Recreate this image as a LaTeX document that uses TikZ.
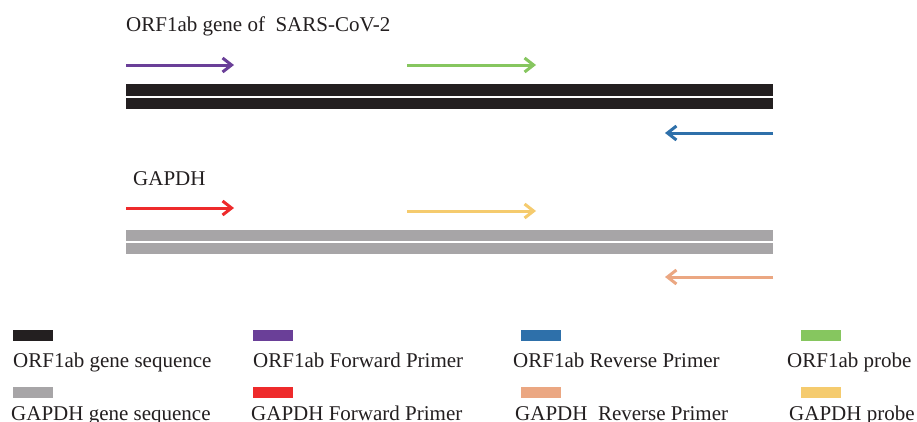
\documentclass[tikz,border=0pt]{standalone}
\usepackage{fontspec}
\setmainfont{Liberation Serif}
\usetikzlibrary{arrows.meta}
\definecolor{cblack}{HTML}{231F20}
\definecolor{cgray}{HTML}{A7A5A7}
\definecolor{cpurple}{HTML}{6A3F98}
\definecolor{cgreen}{HTML}{86C65F}
\definecolor{cblue}{HTML}{2E70AA}
\definecolor{cred}{HTML}{EE2A2B}
\definecolor{cyellow}{HTML}{F5CB6E}
\definecolor{corange}{HTML}{EBA782}
\tikzset{
  primer/.style={line width=3pt,-{Straight Barb[length=9pt,width=14pt,line width=3pt]}},
  lbl/.style={anchor=base west,inner sep=0pt,font=\fontsize{21}{21}\selectfont,text=cblack},
  swatch/.style={fill=#1,draw=none,minimum width=40pt,minimum height=11pt,inner sep=0pt,anchor=north west},
}
\begin{document}
\begin{tikzpicture}[x=1pt,y=-1pt]
\useasboundingbox[fill=white] (0,0) rectangle (917,421);
% title
\node[lbl] (t1) at (126,31) {ORF1ab gene of\ \ SARS-CoV-2};
\node[lbl] (t2) at (133,185) {GAPDH};
% ORF1ab strands
\fill[cblack] (126,84) rectangle (773,96);
\fill[cblack] (126,98) rectangle (773,109);
% GAPDH strands
\fill[cgray] (126,230) rectangle (773,241);
\fill[cgray] (126,243) rectangle (773,254);
% primers
\coordinate (pf1) at (126,65); \coordinate (pf2) at (234,65);
\coordinate (pg1) at (407,65); \coordinate (pg2) at (536,65);
\coordinate (pb1) at (773,133); \coordinate (pb2) at (665,133);
\coordinate (rf1) at (126,208); \coordinate (rf2) at (234,208);
\coordinate (yf1) at (407,211); \coordinate (yf2) at (536,211);
\coordinate (of1) at (773,277); \coordinate (of2) at (665,277);
\draw[primer,cpurple] (pf1) -- (pf2);
\draw[primer,cgreen] (pg1) -- (pg2);
\draw[primer,cblue] (pb1) -- (pb2);
\draw[primer,cred] (rf1) -- (rf2);
\draw[primer,cyellow] (yf1) -- (yf2);
\draw[primer,corange] (of1) -- (of2);
% legend row 1
\node[swatch=cblack] (s1) at (13,330) {};
\node[swatch=cpurple] (s2) at (253,330) {};
\node[swatch=cblue] (s3) at (521,330) {};
\node[swatch=cgreen] (s4) at (801,330) {};
\node[lbl] (l1) at (13,367) {ORF1ab gene sequence};
\node[lbl] (l2) at (253,367) {ORF1ab Forward Primer};
\node[lbl] (l3) at (513,367) {ORF1ab Reverse Primer};
\node[lbl] (l4) at (787,367) {ORF1ab probe};
% legend row 2
\node[swatch=cgray] (s5) at (13,387) {};
\node[swatch=cred] (s6) at (253,387) {};
\node[swatch=corange] (s7) at (521,387) {};
\node[swatch=cyellow] (s8) at (801,387) {};
\node[lbl] (l5) at (11,420) {GAPDH gene sequence};
\node[lbl] (l6) at (251,420) {GAPDH Forward Primer};
\node[lbl] (l7) at (515,420) {GAPDH\ \ Reverse Primer};
\node[lbl] (l8) at (789,420) {GAPDH probe};
\end{tikzpicture}
\end{document}
